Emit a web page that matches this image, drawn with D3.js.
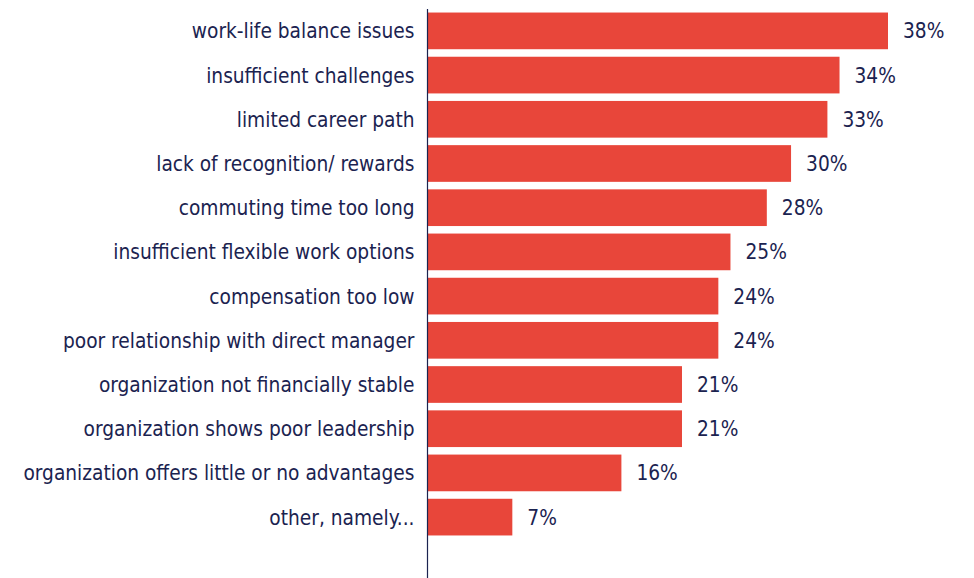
<!DOCTYPE html>
<html><head><meta charset="utf-8">
<script src="https://cdn.jsdelivr.net/npm/d3@7"></script>
<style>body{margin:0;background:#fff;}svg{display:block;}</style>
</head><body>
<svg id="chart" width="974" height="578"></svg>
<script>
const categories = ["work-life balance issues","insufficient challenges","limited career path","lack of recognition/ rewards","commuting time too long","insufficient flexible work options","compensation too low","poor relationship with direct manager","organization not financially stable","organization shows poor leadership","organization offers little or no advantages","other, namely..."];
const values = [38,34,33,30,28,25,24,24,21,21,16,7];

const svg = d3.select("#chart");
const x0 = 427.5;
const x = d3.scaleLinear().domain([0,38]).range([x0, 888]);
const y = d3.scaleBand().domain(categories).range([9, 539]).paddingInner(0.17).paddingOuter(0.08);
const font = "'DejaVu Sans Condensed', 'DejaVu Sans', Verdana, sans-serif";
const txt = "#1b2350";
const fs = 20.7;

svg.selectAll("rect.bar").data(values).join("rect")
  .attr("class","bar")
  .attr("x", x0+0.5)
  .attr("y",(d,i)=>y(categories[i]))
  .attr("width", d=>x(d)-x0-0.5)
  .attr("height", y.bandwidth())
  .attr("fill","#e8463a");

svg.selectAll("text.val").data(values).join("text")
  .attr("class","val")
  .attr("x", d=>x(d)+15)
  .attr("y",(d,i)=>y(categories[i])+y.bandwidth()/2)
  .attr("dy","0.36em")
  .attr("font-family",font).attr("font-size",fs).attr("fill",txt)
  .text(d=>d+"%");

const yAxis = d3.axisLeft(y).tickSize(0).tickPadding(13);
const g = svg.append("g").attr("transform",`translate(${x0},0)`).call(yAxis);
g.select(".domain").remove();
g.selectAll("text").attr("font-family",font).attr("font-size",fs).attr("fill",txt).attr("dy","0.36em");

svg.append("line").attr("x1",x0).attr("x2",x0).attr("y1",9).attr("y2",578)
  .attr("stroke","#1b2350").attr("stroke-width",1.2);
</script>
</body></html>
